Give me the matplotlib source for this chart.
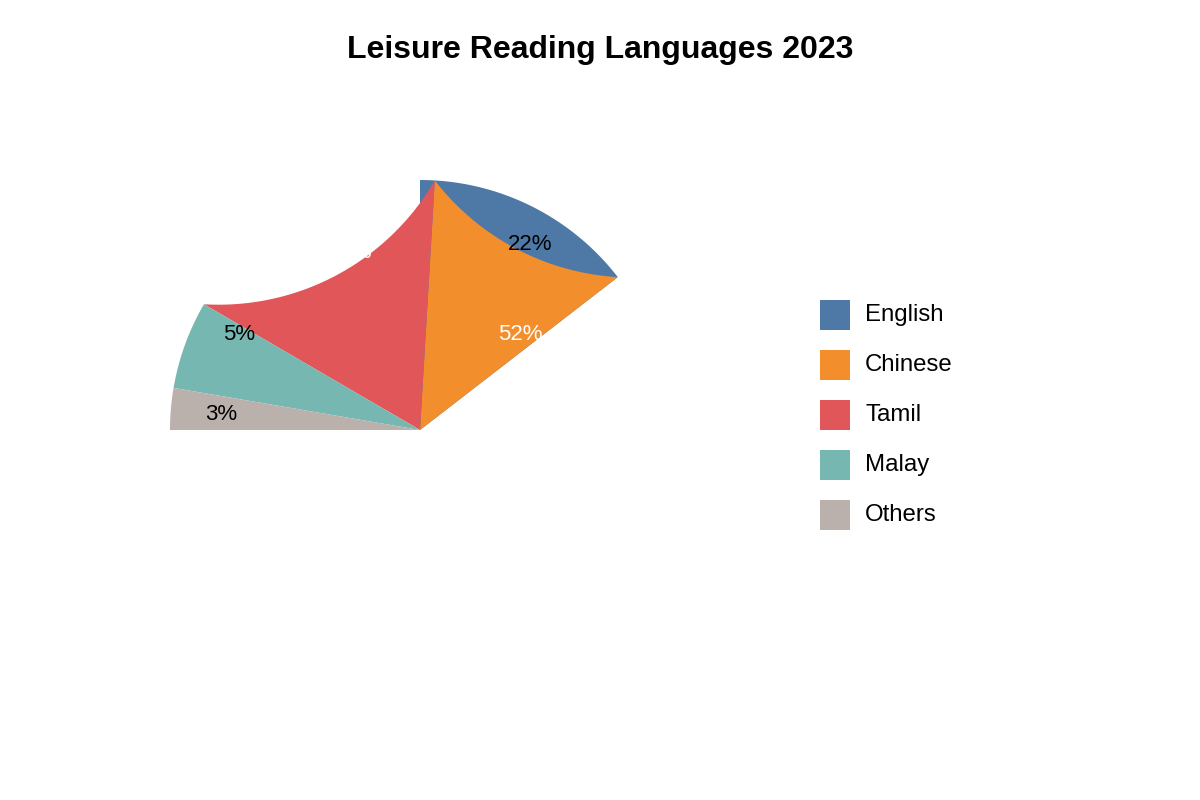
import numpy as np
import matplotlib
matplotlib.use("Agg")
import matplotlib.pyplot as plt
from matplotlib.patches import Polygon, Rectangle

plt.rcParams['font.family'] = ['Liberation Sans', 'DejaVu Sans']

# ---- data ----
categories = ['English', 'Chinese', 'Tamil', 'Malay', 'Others']
values = [22, 52, 18, 5, 3]
colors = ['#4e79a7', '#f28e2b', '#e15759', '#76b7b2', '#bab0ac']
label_colors = ['black', 'white', 'white', 'black', 'black']
title = 'Leisure Reading Languages 2023'

# ---- captured animation frame (angles clockwise from 12 o'clock, degrees) ----
frame_start = [0.0, 3.4, -59.8, -80.3, -90.0]
frame_end = [52.3, 52.3, 3.4, -59.8, -80.3]
frame_flipped = [False, True, True, False, False]
label_angle = [30.3, 45.6, -21.5, -61.7, -85.0]
label_radius = [0.87, 0.56, 0.77, 0.82, 0.80]

W, H = 1200, 800
CX, CY, R = 420, 430, 250  # pie centre / radius in pixels (from top-left)

fig = plt.figure(figsize=(W / 100, H / 100), dpi=100)
ax = fig.add_axes([0, 0, 1, 1])
ax.set_xlim(-CX / R, (W - CX) / R)
ax.set_ylim(-(H - CY) / R, CY / R)
ax.axis('off')


def pt(theta):
    t = np.radians(theta)
    return np.array([np.sin(t), np.cos(t)])


def slice_poly(a0, a1, flipped, n=120):
    p0, p1 = pt(a0), pt(a1)
    if not flipped:
        ts = np.linspace(a0, a1, n)
        arc = np.array([pt(t) for t in ts])
    else:
        c = p0 + p1
        b0 = np.arctan2(p0[1] - c[1], p0[0] - c[0])
        b1 = np.arctan2(p1[1] - c[1], p1[0] - c[0])
        d = (b1 - b0 + np.pi) % (2 * np.pi) - np.pi
        bs = b0 + np.linspace(0, d, n)
        arc = np.column_stack([c[0] + np.cos(bs), c[1] + np.sin(bs)])
    return np.vstack([[0, 0], arc])


for i, cat in enumerate(categories):
    poly = slice_poly(frame_start[i], frame_end[i], frame_flipped[i])
    ax.add_patch(Polygon(poly, closed=True, facecolor=colors[i],
                         edgecolor='none', linewidth=0, zorder=2 + i))

for i, v in enumerate(values):
    p = pt(label_angle[i]) * label_radius[i]
    ax.text(p[0], p[1] - 2 / R, f'{v}%', ha='center', va='center', fontsize=16,
            color=label_colors[i], zorder=20)


def px(x, y):
    return (x - CX) / R, (CY - y) / R


# title
tx, ty = px(600, 50)
ax.text(tx, ty, title, ha='center', va='center', fontsize=23,
        fontweight='bold', color='black')

# legend
for i, cat in enumerate(categories):
    x0, y0 = px(820, 330 + 50 * i)
    ax.add_patch(Rectangle((x0, y0), 30 / R, 30 / R, facecolor=colors[i],
                           edgecolor='none'))
    lx, ly = px(865, 315 + 50 * i)
    ax.text(lx, ly, cat, ha='left', va='center', fontsize=17.3, color='black')

fig.savefig('out.png', dpi=100, facecolor='white')
